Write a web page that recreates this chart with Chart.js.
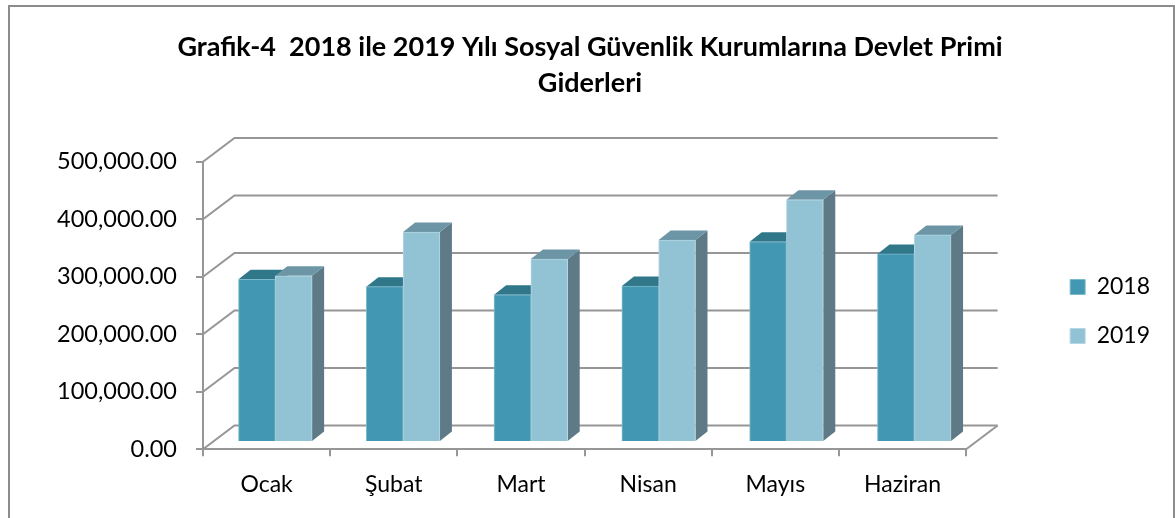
<!DOCTYPE html>
<html>
<head>
<meta charset="utf-8">
<style>
html, body { margin: 0; padding: 0; background: #fff; }
#wrap { position: relative; width: 1175px; height: 518px; }
</style>
<script src="https://cdn.jsdelivr.net/npm/chart.js@4"></script>
</head>
<body>
<div id="wrap"><canvas id="chart"></canvas></div>
<script>
const months = ['Ocak', 'Şubat', 'Mart', 'Nisan', 'Mayıs', 'Haziran'];
const values2018 = [283000, 270000, 256000, 271000, 348000, 327000];
const values2019 = [289000, 365000, 318000, 351000, 421000, 360000];
const titleLines = ['Grafik-4  2018 ile 2019 Yılı Sosyal Güvenlik Kurumlarına Devlet Primi', 'Giderleri'];

const FONT = 'Lato, sans-serif';
const GREY = '#969696';

// depth of the fake 3D: back wall and the bars' own offset/depth
const wall = { dx: 31.5, dy: -23.8 };
const barShift = { dx: 8.4, dy: -7.3, stretch: 1.0047 };
const barDepth = { dx: 12, dy: -9.5 };
const faces = [
    { top: '#31778A', side: '#2F6C7E' },
    { top: '#6C95A5', side: '#5E7A87' }
];

function poly(ctx, pts, fill) {
    ctx.beginPath();
    pts.forEach((p, i) => i ? ctx.lineTo(p[0], p[1]) : ctx.moveTo(p[0], p[1]));
    ctx.closePath();
    ctx.fillStyle = fill;
    ctx.fill();
}

const wallPlugin = {
    id: 'wall3d',
    beforeDatasetsDraw(chart) {
        const { ctx, chartArea: a, scales: { y } } = chart;
        ctx.save();
        ctx.strokeStyle = GREY;
        ctx.lineWidth = 2;
        y.ticks.forEach(t => {
            const py = y.getPixelForValue(t.value);
            ctx.beginPath();
            ctx.moveTo(a.left, py);
            ctx.lineTo(a.left + wall.dx, py + wall.dy);
            ctx.lineTo(a.right + wall.dx, py + wall.dy);
            ctx.stroke();
        });
        // floor edge on the right
        ctx.beginPath();
        ctx.moveTo(a.right, a.bottom);
        ctx.lineTo(a.right + wall.dx, a.bottom + wall.dy);
        ctx.stroke();
        ctx.restore();

        // shift the bars onto the floor, side and top faces first
        ctx.save();
        ctx.translate(a.left + barShift.dx, barShift.dy);
        ctx.scale(barShift.stretch, 1);
        ctx.translate(-a.left, 0);
        chart.data.datasets.forEach((ds, i) => {
            chart.getDatasetMeta(i).data.forEach(bar => {
                const l = bar.x - bar.width / 2, r = bar.x + bar.width / 2;
                const d = barDepth;
                poly(ctx, [[r, bar.y], [r + d.dx, bar.y + d.dy], [r + d.dx, bar.base + d.dy], [r, bar.base]], faces[i].side);
                poly(ctx, [[l, bar.y], [l + d.dx, bar.y + d.dy], [r + d.dx, bar.y + d.dy], [r, bar.y]], faces[i].top);
            });
        });
    },
    afterDatasetsDraw(chart) {
        chart.ctx.restore();
    }
};

// white page with the frame, which has no bottom edge in the picture
const framePlugin = {
    id: 'frame',
    beforeDraw(chart) {
        const { ctx, width, height } = chart;
        ctx.save();
        ctx.fillStyle = '#fff';
        ctx.fillRect(0, 0, width, height);
        ctx.strokeStyle = '#8c8c8c';
        ctx.lineWidth = 2;
        ctx.strokeRect(9, 6, width - 10, height + 4);
        ctx.restore();
    }
};

new Chart(document.getElementById('chart'), {
    type: 'bar',
    data: {
        labels: months,
        datasets: [
            { label: '2018', data: values2018, backgroundColor: '#4298B3', borderColor: '#7DB9CC', borderWidth: 1, barThickness: 36.6, clip: false },
            { label: '2019', data: values2019, backgroundColor: '#92C3D4', borderColor: '#B5D6E2', borderWidth: 1, barThickness: 36.6, clip: false }
        ]
    },
    options: {
        responsive: true,
        maintainAspectRatio: false,
        animation: false,
        layout: { padding: { top: 29, right: 15, bottom: -76, left: 20 } },
        plugins: {
            title: {
                display: true,
                text: titleLines,
                color: '#000',
                font: { family: FONT, size: 27, weight: 'bold', lineHeight: 1.35 },
                padding: { top: 0, bottom: 59.8 }
            },
            legend: {
                position: 'right',
                labels: {
                    color: '#000',
                    font: { family: FONT, size: 23 },
                    boxWidth: 15,
                    boxHeight: 15,
                    padding: 26
                }
            },
            tooltip: { enabled: false }
        },
        scales: {
            x: {
                grid: { color: GREY, lineWidth: 2, drawOnChartArea: false, tickLength: 7 },
                border: { color: GREY, width: 2 },
                ticks: { color: '#000', font: { family: FONT, size: 23 }, padding: 14, maxRotation: 0 },
                afterFit: s => { s.height = 144.7; }
            },
            y: {
                min: 0,
                max: 500000,
                grid: { color: GREY, lineWidth: 2, drawOnChartArea: false, tickLength: 7 },
                border: { color: GREY, width: 2 },
                ticks: {
                    stepSize: 100000,
                    color: '#000',
                    font: { family: FONT, size: 23.5 },
                    padding: 19,
                    callback: v => v.toLocaleString('en-US', { minimumFractionDigits: 2, maximumFractionDigits: 2 })
                },
                afterFit: s => { s.width = 183; }
            },
            // empty box that keeps the legend away from the plot
            gap: {
                position: 'right',
                display: true,
                grid: { display: false },
                border: { display: false },
                ticks: { display: false },
                afterFit: s => { s.width = 78; }
            }
        }
    },
    plugins: [wallPlugin, framePlugin]
});
</script>
</body>
</html>
